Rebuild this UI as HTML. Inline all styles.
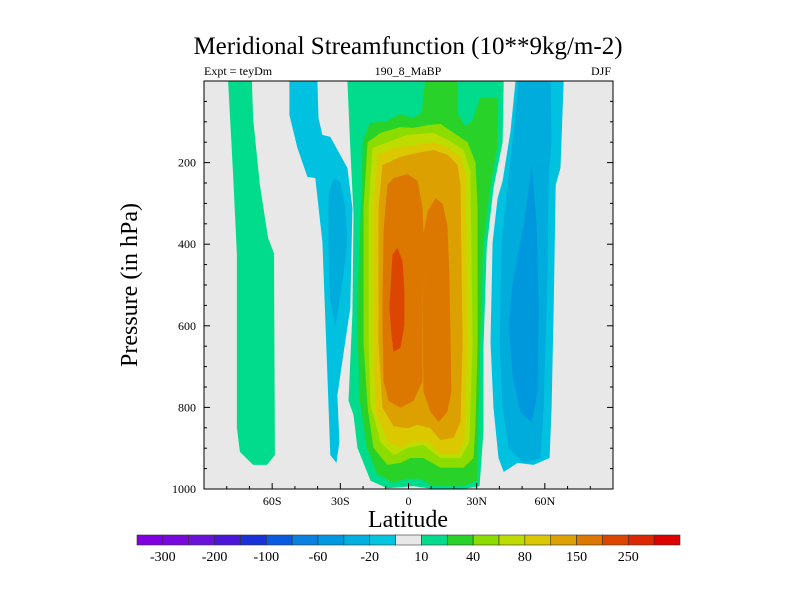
<!DOCTYPE html>
<html><head><meta charset="utf-8"><style>
body{margin:0;background:#fff;}
svg text{font-family:"Liberation Serif",serif;fill:#000;}
</style></head><body>
<svg id="chart" width="800" height="600" viewBox="0 0 800 600" xmlns="http://www.w3.org/2000/svg">
<rect width="800" height="600" fill="#fff"/>
<text x="408" y="54" font-size="25" text-anchor="middle">Meridional Streamfunction (10**9kg/m-2)</text>
<text x="204" y="75" font-size="12">Expt = teyDm</text>
<text x="408" y="75" font-size="12" text-anchor="middle">190_8_MaBP</text>
<text x="611" y="75" font-size="12" text-anchor="end">DJF</text>
<g id="plot"></g>
<g id="axes"></g>
<text transform="translate(137,285) rotate(-90)" font-size="24" text-anchor="middle">Pressure (in hPa)</text>
<text x="408" y="527" font-size="24" text-anchor="middle">Latitude</text>
<g id="cbar"></g>
</svg>
<script>
// axis domain
const latMin=-90, latMax=90, pMin=0, pMax=1000;
const xTicks=[-60,-30,0,30,60];
const xTickLabels=["60S","30S","0","30N","60N"];
const yTicks=[200,400,600,800,1000];
const cbarColors=["#8000e0","#7808dc","#6a12d8","#4c16d8","#1a30d8","#0a5ae0","#0a80e0","#0098e0","#00b0e0","#00c6e0","#e8e8e8","#00dc8c","#28d228","#8cdc00","#bedc00","#dcc800","#dca000","#dc7800","#dc4600","#dc2800","#dc0000"];
const cbarLabels=["-300","-200","-100","-60","-20","10","40","80","150","250"];
// contour regions: level color + [lat, pressure] vertices
const leftGreen={c:"#00dc8c",lat:[-79.4,-68.9,-68.4,-65.4,-61.8,-59.2,-58.8,-62.3,-68.4,-74.2,-75.5,-75.5,-77.2],p:[0,0,91,255,385,422,917,941,941,909,850,426,230]};
const leftBlue={c:"#00c2e0",lat:[-52.4,-40.1,-39.6,-37.9,-34.4,-26.9,-24.7,-25.6,-30,-31.3,-30.4,-31.7,-34.4,-35.7,-37.9,-41,-44.5,-48.9,-52.4],p:[0,0,91,132,137,213,311,556,721,770,885,936,917,721,395,238,235,164,83]};
const leftBlue2={c:"#00acdc",lat:[-35.2,-33,-30,-27.8,-26.9,-28.6,-30.8,-32.2,-34.4,-35.2],p:[279,238,248,311,395,475,556,600,539,409]};
const rightBlue={c:"#00c2e0",lat:[47.1,68.3,66.9,64.8,63.9,63,62.1,55,48,41.9,39.6,37.4,36.1,37,39.2,41.4,44.9],p:[0,0,213,255,556,801,924,941,936,958,924,801,640,395,287,245,123]};
const rightBlue2={c:"#00acdc",lat:[48.5,62.6,63,61.7,61.2,59.5,58.1,50.7,44.1,41.4,40.1,41,43.6,46.3],p:[0,0,150,230,475,801,924,936,900,801,640,395,255,123]};
const rightBlue3={c:"#0098dc",lat:[54.2,56.4,57.3,56.8,54.2,49.3,45.8,44.1,45.8,50.7],p:[206,353,556,762,838,811,721,598,493,353]};
const c1={c:"#00dc8c",lat:[-26.9,41.9,41.4,37.4,34.4,33,33,31.3,24.2,11,2.2,-9.3,-16.7,-22.5,-24.2,-26.4,-24.7,-24.2,-25.6],p:[0,0,150,262,409,654,858,993,1000,1000,993,998,980,899,818,784,571,326,164]};
const c2={c:"#28d228",lat:[7.3,21.4,21.8,24.9,28,31.5,39.4,39,35.9,32.8,31.5,30.6,30.2,24,10.8,5.1,-0.6,-6.8,-13.8,-18.3,-21.4,-22.7,-20.5,-20.1,-17,-9.5,-3.8,1.9,5.9],p:[0,0,81,110,98,42,42,164,262,409,654,882,980,993,993,975,975,985,963,899,784,571,245,147,103,98,81,91,78]};
const c3={c:"#8cdc00",lat:[-18,-12.3,-3.5,2.2,8.4,14.1,19.8,26,29.5,30.4,30.4,29.5,28.6,24.2,14.1,6.6,0.9,-3.5,-9.3,-15.4,-18,-19.8,-19.8],p:[150,127,113,115,108,105,127,150,199,311,640,843,924,948,948,924,924,936,941,899,801,640,311]};
const c4={c:"#bedc00",lat:[-15.9,-9.3,-0.4,11,17.6,24.2,27.3,28.2,26.8,22.9,14.1,6.6,-0.4,-6.6,-12.3,-16.7,-17.6,-17.6],p:[164,150,132,127,145,169,223,640,885,924,924,892,899,917,885,794,640,311]};
const c5={c:"#dcc800",lat:[-13.6,-6.6,2.2,11,17.1,22.9,25.1,26,24.6,21.6,14.1,8.4,2.2,-3.5,-9.3,-14.5,-15.4,-15.4],p:[181,164,157,150,162,186,230,640,882,914,914,882,882,899,882,809,640,311]};
const c6={c:"#dca000",lat:[-11.5,-3.5,4,11,17.1,21.6,22.9,23.8,22.9,19.8,14.1,9.7,4,-0.4,-6.6,-11.5,-13.2,-13.2],p:[206,186,176,169,181,206,255,640,836,875,880,851,843,851,846,801,640,311]};
const c7a={c:"#dc7800",lat:[-9.3,-6.6,-0.4,4,6.2,6.6,8.4,6.2,6.2,2.2,-3.5,-8.8,-11,-11.5,-11],p:[255,238,228,245,311,375,466,515,735,784,801,784,735,571,368]};
const c7b={c:"#dc7800",lat:[8.4,11.9,15,17.1,18,18.9,17.1,13.2,9.7,6.6,6.2,8.4,6.2],p:[319,287,301,353,475,762,811,836,811,762,517,466,385]};
const c8={c:"#dc4600",lat:[-7.1,-4.9,-2.6,-1.8,-1.8,-3.5,-6.6,-7.5,-8.4],p:[426,409,441,515,598,654,664,623,556]};
const regions=[leftGreen,leftBlue,leftBlue2,rightBlue,rightBlue2,rightBlue3,c1,c2,c3,c4,c5,c6,c7a,c7b,c8];
const regionNames=["sh-positive-band","sh-negative-band","sh-negative-core","nh-negative-band","nh-negative-inner","nh-negative-core","hadley-10","hadley-20","hadley-40","hadley-60","hadley-80","hadley-100","hadley-150-south","hadley-150-north","hadley-200"];

const X0=204,X1=613,Y0=81,Y1=489;
const x=lat=>X0+(lat-latMin)/(latMax-latMin)*(X1-X0);
const y=p=>Y0+(p-pMin)/(pMax-pMin)*(Y1-Y0);
const NS="http://www.w3.org/2000/svg";
function mk(tag,parent,attrs){const e=document.createElementNS(NS,tag);for(const k in attrs)e.setAttribute(k,attrs[k]);parent.appendChild(e);return e;}
const plot=document.getElementById('plot'),axes=document.getElementById('axes'),cbar=document.getElementById('cbar');
const bg=mk('rect',plot,{x:X0,y:Y0,width:X1-X0,height:Y1-Y0,fill:"#e8e8e8"});


regions.forEach((r,i)=>{
  const pts=r.lat.map((la,j)=>x(la).toFixed(1)+","+y(Math.min(r.p[j],pMax)).toFixed(1)).join(" ");
  const poly=mk('polygon',plot,{points:pts,fill:r.c});
  
  
});
const frame=mk('rect',axes,{x:X0,y:Y0,width:X1-X0,height:Y1-Y0,fill:"none",stroke:"#000","stroke-width":1});


for(let la=-80;la<=80;la+=10){
  const major=xTicks.includes(la),len=major?6:3;
  mk('line',axes,{x1:x(la),x2:x(la),y1:Y1,y2:Y1-len,stroke:"#000"});
}
xTicks.forEach((la,i)=>{
  const t=mk('text',axes,{x:x(la),y:Y1+16,"font-size":12,"text-anchor":"middle"});
  t.textContent=xTickLabels[i];
  
  
});
for(let p=50;p<1000;p+=50){
  const major=yTicks.includes(p),len=major?6:3;
  mk('line',axes,{x1:X0,x2:X0+len,y1:y(p),y2:y(p),stroke:"#000"});
  mk('line',axes,{x1:X1,x2:X1-len,y1:y(p),y2:y(p),stroke:"#000"});
}
yTicks.forEach(p=>{
  const t=mk('text',axes,{x:X0-8,y:y(p)+4,"font-size":12,"text-anchor":"end"});
  t.textContent=p;
  
  
});
const CB0=137,CB1=680,CBY=535,CBH=10,bw=(CB1-CB0)/cbarColors.length;
cbarColors.forEach((c,i)=>{
  const r=mk('rect',cbar,{x:CB0+i*bw,y:CBY,width:bw,height:CBH,fill:c,stroke:"#333","stroke-width":0.6});
  
  
});
cbarLabels.forEach((l,i)=>{
  const t=mk('text',cbar,{x:CB0+(1+2*i)*bw,y:CBY+26,"font-size":14,"text-anchor":"middle"});
  t.textContent=l;
  
  
});
</script>
</body></html>
